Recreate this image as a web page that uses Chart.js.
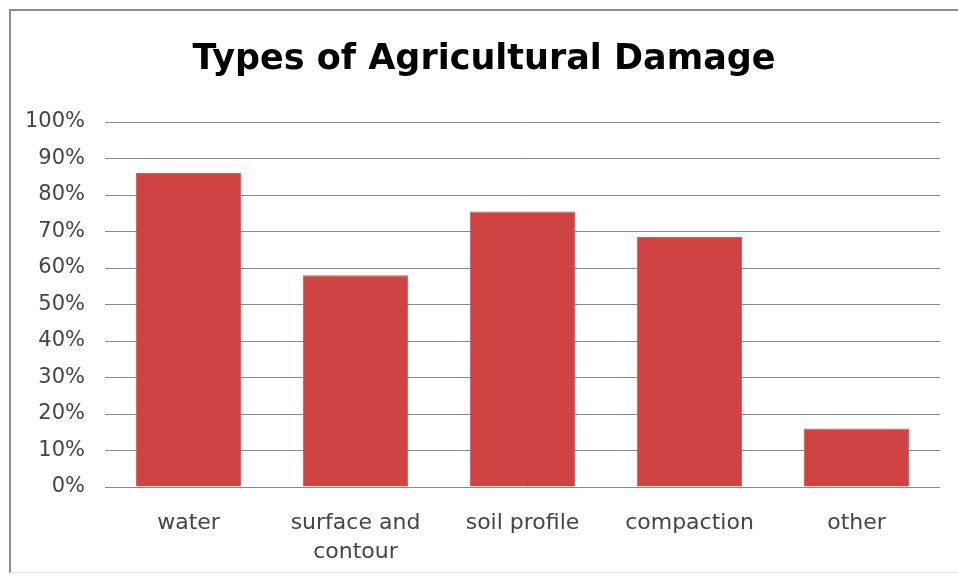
<!DOCTYPE html>
<html>
<head>
<meta charset="utf-8">
<script src="https://cdn.jsdelivr.net/npm/chart.js@4"></script>
<style>
  body { margin: 0; background: #fff; }
  #frame {
    position: absolute; left: 9px; top: 9px; width: 960px; height: 561px;
    border-left: 2px solid #8c8c8c; border-top: 2px solid #8c8c8c;
    border-bottom: 1px solid #e2e2e2;
  }
  #wrap { position: absolute; left: 0; top: 0; width: 958px; height: 581px; }
</style>
</head>
<body>
<div id="frame"></div>
<div id="wrap"><canvas id="chart" width="958" height="581"></canvas></div>
<script>
const categories = ["water", ["surface and", "contour"], "soil profile", "compaction", "other"];
const damageShare = [86, 58, 75.5, 68.5, 16];
const yTicks = [0, 10, 20, 30, 40, 50, 60, 70, 80, 90, 100];

const ctx = document.getElementById("chart").getContext("2d");
const chart = new Chart(ctx, {
  type: "bar",
  data: {
    labels: categories,
    datasets: [{
      label: "Damage",
      data: damageShare,
      backgroundColor: "#cf4343",
      borderColor: "#d65a55",
      borderWidth: 1,
      barPercentage: 0.63,
      categoryPercentage: 1,
    }],
  },
  options: {
    responsive: false,
    animation: false,
    layout: { padding: { left: 10, right: 0, top: 10, bottom: 10 } },
    plugins: {
      legend: { display: false },
      tooltip: { enabled: false },
      title: {
        display: true,
        text: "Types of Agricultural Damage",
        color: "#000",
        font: { family: "DejaVu Sans", size: 35, weight: "bold" },
        padding: { top: 29, bottom: 41 },
      },
    },
    scales: {
      x: {
        grid: { display: false },
        border: { display: false },
        ticks: {
          color: "#454545",
          font: { family: "DejaVu Sans", size: 22, lineHeight: 1.35 },
          padding: 13,
          maxRotation: 0,
        },
        afterFit: (axis) => { axis.height = 84; },
      },
      y: {
        min: 0,
        max: 100,
        afterBuildTicks: (axis) => { axis.ticks = yTicks.map((v) => ({ value: v })); },
        grid: { color: "#8a8a8a", lineWidth: 1, drawTicks: false },
        border: { display: false },
        ticks: {
          color: "#454545",
          font: { family: "DejaVu Sans", size: 21 },
          padding: 20,
          callback: (v) => v + "%",
        },
        afterFit: (axis) => { axis.width = 95; },
      },
      // empty right axis: keeps the plot inside the frame while the title centres a bit further right
      yRight: {
        position: "right",
        min: 0,
        max: 100,
        grid: { display: false },
        border: { display: false },
        ticks: { display: false },
        afterFit: (axis) => { axis.width = 18; },
      },
    },
  },
});
</script>
</body>
</html>
